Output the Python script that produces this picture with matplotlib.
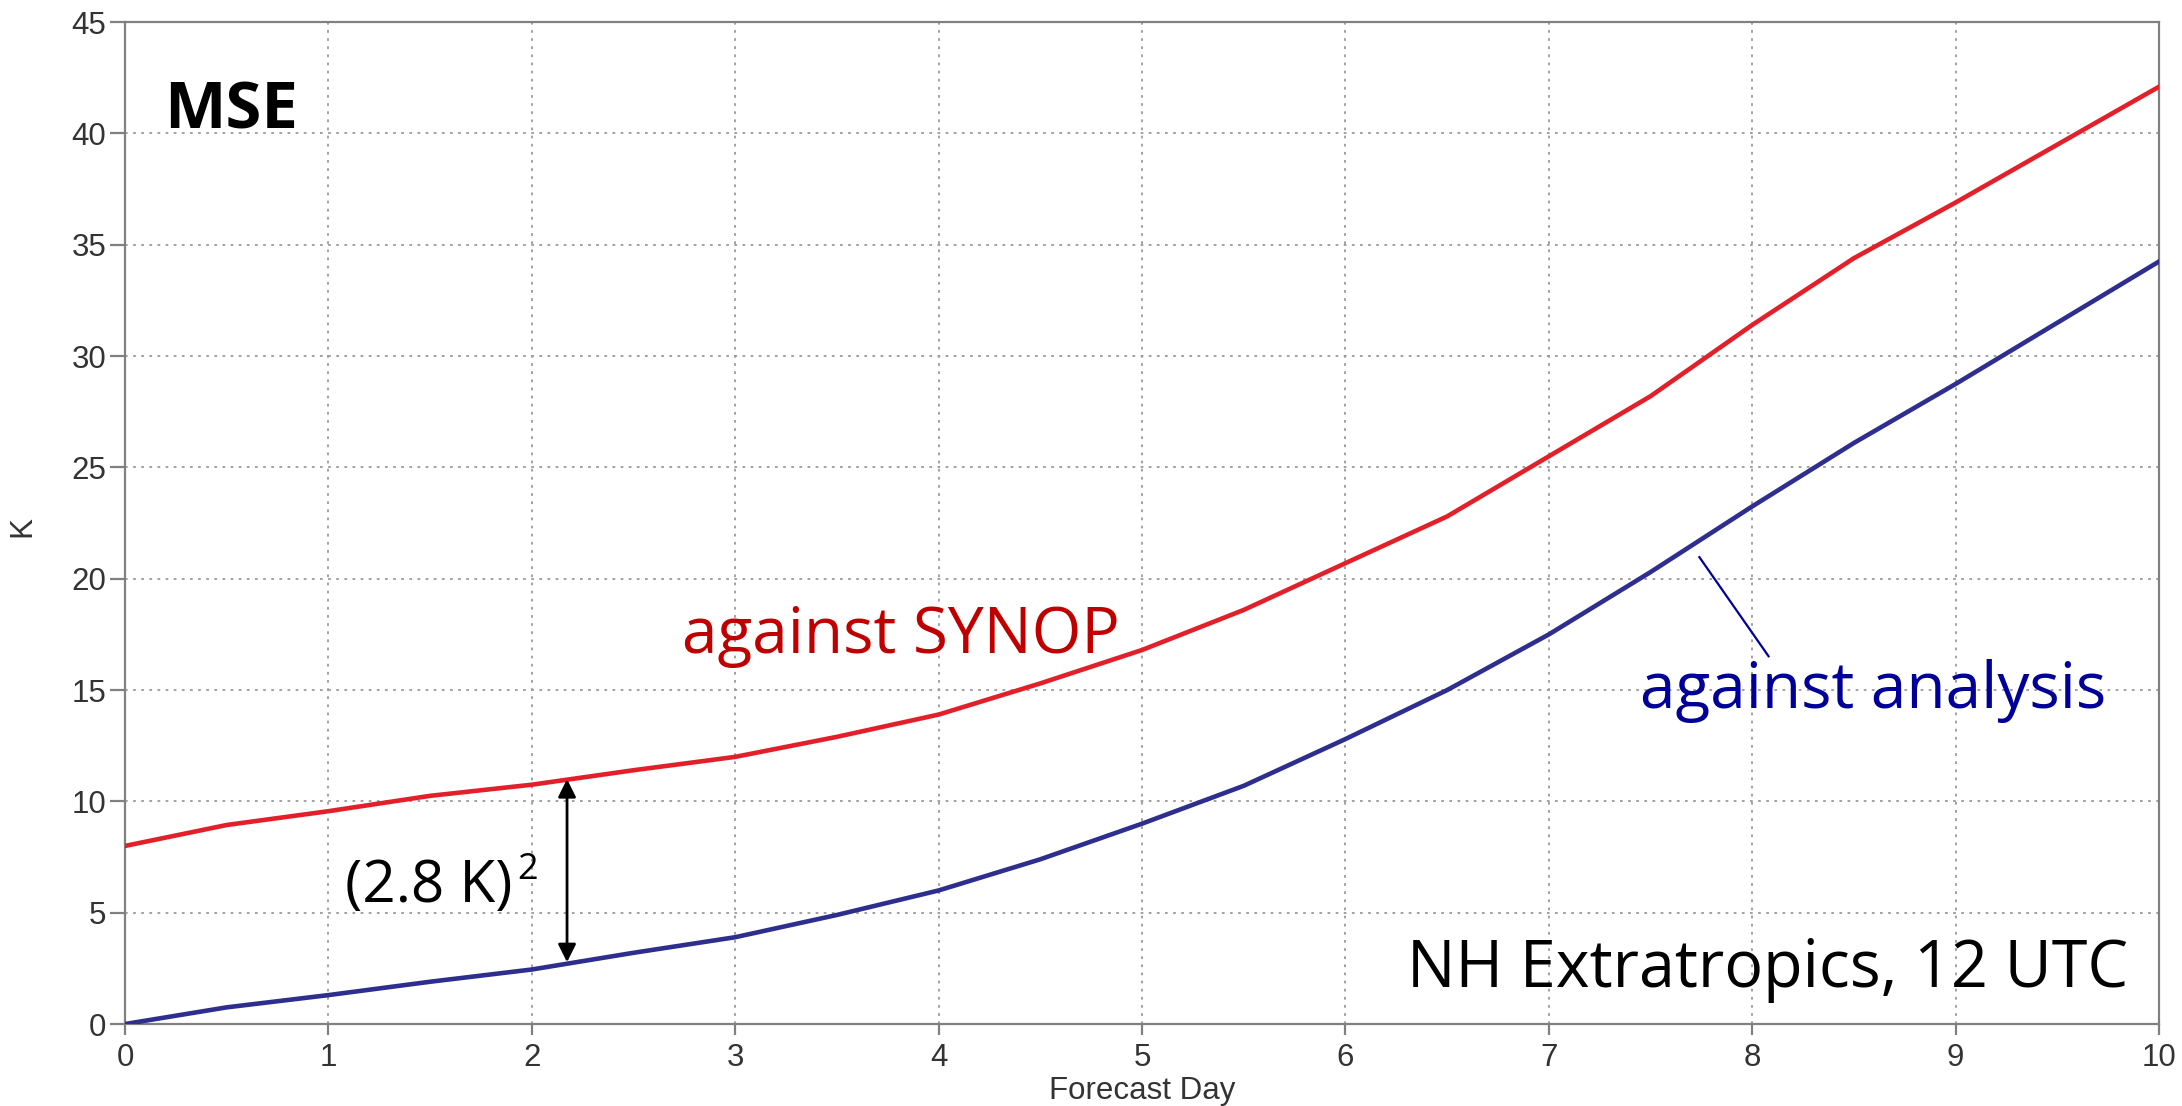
import matplotlib
matplotlib.use("Agg")
import matplotlib.pyplot as plt

days = [0, 0.5, 1, 1.5, 2, 2.5, 3, 3.5, 4, 4.5, 5, 5.5, 6, 6.5, 7, 7.5, 8, 8.5, 9, 9.5, 10]
mse_synop = [8.0, 8.94, 9.56, 10.25, 10.75, 11.4, 12.0, 12.9, 13.9, 15.3, 16.8, 18.6, 20.7,
             22.8, 25.5, 28.2, 31.4, 34.4, 36.9, 39.5, 42.1]
mse_analysis = [0.0, 0.75, 1.3, 1.9, 2.45, 3.2, 3.9, 4.9, 6.0, 7.4, 9.0, 10.7, 12.8,
                15.0, 17.5, 20.3, 23.25, 26.1, 28.75, 31.5, 34.25]
xticks = list(range(0, 11))
yticks = list(range(0, 50, 5))

fig = plt.figure(figsize=(21.82, 11.06), dpi=100)
ax = fig.add_axes([0.0573, 0.0741, 0.9322, 0.9059])

ax.plot(days, mse_synop, color="#e3202a", lw=3.3, zorder=3)
ax.plot(days, mse_analysis, color="#2e2e8e", lw=3.3, zorder=3)

ax.set_xlim(0, 10)
ax.set_ylim(0, 45)
ax.set_xticks(xticks)
ax.set_yticks(yticks)
ax.grid(True, color="#9a9a9a", linestyle=(0, (1.5, 3)), lw=1.3)
for s in ax.spines.values():
    s.set_color("#808080")
    s.set_linewidth(1.6)
af = "Liberation Sans"
ax.tick_params(axis="both", colors="#808080", width=1.6, labelsize=22.5, labelcolor="#333333")
ax.tick_params(axis="x", length=8, pad=6)
ax.tick_params(axis="y", length=10.5, pad=3)
for lab in ax.get_xticklabels() + ax.get_yticklabels():
    lab.set_family(af)
ax.set_xlabel("Forecast Day", fontsize=22.5, color="#333333", family=af, labelpad=2)
ax.set_ylabel("K", fontsize=22.5, color="#333333", family=af)
ax.yaxis.set_label_coords(-0.043, 0.497)

tf = "Open Sans"
ax.text(0.19, 40.2, "MSE", fontsize=47, fontweight="bold",
        family=tf, va="baseline", ha="left")
ax.text(2.74, 16.66, "against SYNOP", fontsize=46, color="#c00000", family=tf, ha="left", va="baseline")
ax.text(7.45, 14.19, "against analysis", fontsize=46, color="#000099", family=tf, ha="left", va="baseline")
ax.text(9.85, 1.66, "NH Extratropics, 12 UTC", fontsize=46.5, color="black", family=tf, ha="right", va="baseline")
ax.text(1.08, 5.48, "(2.8 K)", fontsize=42, color="black", family=tf, ha="left", va="baseline")
ax.text(1.93, 6.5, "2", fontsize=26, color="black", family=tf, ha="left", va="baseline")

ax.annotate("", xy=(2.173, 11.0), xytext=(2.173, 2.78),
            arrowprops=dict(arrowstyle="<|-|>", color="black", lw=2, mutation_scale=27,
                            shrinkA=0, shrinkB=0), zorder=4)
ax.plot([7.74, 8.08], [20.97, 16.52], color="#000099", lw=1.6, zorder=4)

fig.savefig("out.png", dpi=100)
